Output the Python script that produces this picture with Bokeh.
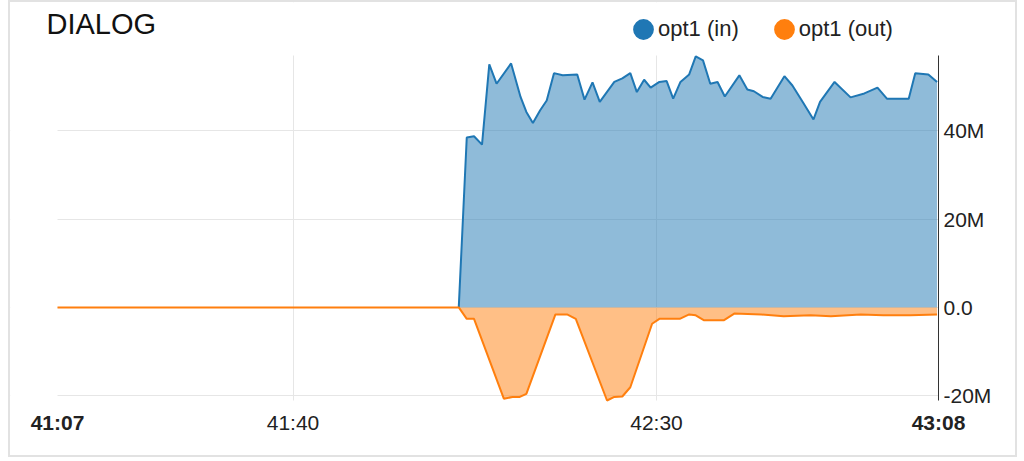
from bokeh.plotting import figure
from bokeh.models import (Range1d, FixedTicker, Label, Legend, LegendItem,
                          BoxAnnotation)
from bokeh.embed import file_html
from bokeh.resources import INLINE

# ---- data (time in seconds after 41:00, values in millions) ----
X_START, X_END = 7.6, 128.8        # visible time window (41:07.6 .. 43:08.8)
VIS_BOTTOM, VIS_TOP = -21.1, 57.1  # visible value window
X_MIN, X_MAX = 1.134, 139.39       # frame extended left / right (title, labels)
Y_MIN, Y_MAX = -33.57, 69.11       # frame extended down / up (labels, legend)

in_t = [62.8, 63.9, 64.9, 66.0, 67.0, 68.0, 70.0, 71.3, 72.1, 73.0, 74.0, 74.9,
        75.9, 77.1, 79.1, 80.1, 81.2, 82.2, 84.2, 85.3, 86.4, 87.3, 88.3, 89.2, 90.4,
        91.4, 92.3, 93.3, 94.5, 95.4, 96.4, 97.4, 98.4, 99.4, 101.4, 102.5, 103.4,
        104.6, 105.7, 107.6, 108.7, 110.1, 111.6, 112.5, 114.5, 116.7, 118.6, 120.4,
        121.7, 124.7, 125.6, 127.4, 128.6]
in_v = [0, 38.5, 38.8, 36.9, 55.1, 50.7, 55.3, 47.7, 44.3, 41.8, 44.7, 46.9,
        53.1, 52.6, 52.8, 47.1, 51.0, 46.6, 51.1, 51.9, 53.1, 48.8, 51.6, 49.8, 51.1,
        51.3, 47.3, 51.1, 52.8, 56.9, 56.0, 50.7, 51.1, 47.8, 52.6, 49.4, 49.0,
        47.7, 47.3, 52.4, 50.3, 46.6, 42.6, 46.6, 51.1, 47.6, 48.5, 49.8,
        47.3, 47.3, 53.1, 52.8, 51.1]

out_t = [7.6, 62.8, 63.9, 64.9, 69.0, 70.2, 71.2, 72.1, 76.1, 77.7, 78.9, 83.2, 84.2,
         85.3, 86.4, 89.4, 90.4, 92.0, 93.2, 94.5, 95.4, 96.5, 99.3, 100.7, 104.4,
         107.5, 111.2, 114.0, 118.1, 121.2, 124.9, 128.6]
out_v = [0, 0, -2.6, -2.6, -20.7, -20.3, -20.3, -19.6, -1.6, -1.6, -2.6, -21.1, -20.3,
         -20.2, -18.1, -3.7, -2.6, -2.6, -2.6, -1.6, -1.8, -2.9, -2.9, -1.4, -1.6,
         -2.0, -1.8, -2.0, -1.6, -1.8, -1.8, -1.6]

x_ticks = [40, 90]
x_tick_labels = ["41:40", "42:30"]
edge_ticks = [X_START, X_END]
edge_labels = ["41:07", "43:08"]
y_ticks = [-20, 0, 20, 40]
y_tick_labels = ["-20M", "0.0", "20M", "40M"]
series_names = ["opt1 (in)", "opt1 (out)"]
title_text = "DIALOG"

BLUE = "#1f77b4"
ORANGE = "#ff7f0e"
FONT = "Liberation Sans"
TXT = "#222222"

p = figure(width=1005, height=453, output_backend="svg", toolbar_location=None,
           x_range=Range1d(X_MIN, X_MAX), y_range=Range1d(Y_MIN, Y_MAX),
           y_axis_location="right",
           min_border_left=0, min_border_right=0, min_border_top=0, min_border_bottom=0,
           styles={"outline": "2px solid #e2e2e2", "margin-left": "10px",
                   "margin-top": "2px"})
p.outline_line_color = None
p.background_fill_color = "white"
p.border_fill_color = "white"

# x axis: ticker drives the grid, labels drawn as text below the window
xa = p.xaxis[0]
xa.ticker = FixedTicker(ticks=x_ticks)
xa.visible = False

p.xgrid.grid_line_color = "#e6e6e6"
p.ygrid.grid_line_color = "#e6e6e6"

# hide grid outside the visible window
for kw in ({"bottom": VIS_TOP}, {"right": X_START}, {"top": VIS_BOTTOM}, {"left": X_END}):
    p.add_layout(BoxAnnotation(fill_color="white", fill_alpha=1, line_color=None,
                               level="underlay", **kw))

p.varea(x=in_t, y1=0, y2=in_v, fill_color=BLUE, fill_alpha=0.5)
p.varea(x=out_t, y1=0, y2=out_v, fill_color=ORANGE, fill_alpha=0.5)
p.line(in_t, in_v, line_color=BLUE, line_width=2)
p.line(out_t, out_v, line_color=ORANGE, line_width=2)

# legend swatch renderers (their single point lies outside the x range)
r_in = p.ellipse(x=[X_MIN - 50], y=[0], width=10, height=10, width_units="screen",
                 height_units="screen", fill_color=BLUE, line_color=None)
r_out = p.ellipse(x=[X_MIN - 50], y=[0], width=10, height=10, width_units="screen",
                  height_units="screen", fill_color=ORANGE, line_color=None)

# time labels
for xv, txt in zip(x_ticks, x_tick_labels):
    p.add_layout(Label(x=xv, y=45, y_units="screen", text=txt, text_align="center",
                       text_baseline="top", text_font=FONT, text_font_size="21px",
                       text_color=TXT))
for xv, txt in zip(edge_ticks, edge_labels):
    p.add_layout(Label(x=xv, y=45, y_units="screen", text=txt, text_align="center",
                       text_baseline="top", text_font=FONT, text_font_size="21px",
                       text_font_style="bold", text_color=TXT))

# y axis (right, pinned at the end of the time window)
ya = p.yaxis[0]
ya.ticker = FixedTicker(ticks=y_ticks)
ya.major_label_overrides = {t: l for t, l in zip(y_ticks, y_tick_labels)}
ya.fixed_location = X_END
ya.bounds = (VIS_BOTTOM, VIS_TOP)
ya.axis_line_color = "#333333"
ya.major_tick_in = 0
ya.major_tick_out = 0
ya.minor_tick_line_color = None
ya.major_label_standoff = 5
ya.major_label_text_font = FONT
ya.major_label_text_font_size = "21px"
ya.major_label_text_color = TXT

# title
p.add_layout(Label(x=36, y=432, x_units="screen", y_units="screen", text=title_text,
                   text_baseline="alphabetic", text_font=FONT, text_font_size="29px",
                   text_color="#111111"))

legend = Legend(items=[LegendItem(label=series_names[0], renderers=[r_in]),
                       LegendItem(label=series_names[1], renderers=[r_out])],
                orientation="horizontal", location=(620, 413),
                glyph_width=26, glyph_height=26, label_standoff=2, spacing=32,
                padding=0, margin=0, background_fill_alpha=0, border_line_alpha=0,
                label_text_font=FONT, label_text_font_size="22px",
                label_text_color=TXT)
p.add_layout(legend)

open("out.html", "w").write(file_html(p, INLINE))
